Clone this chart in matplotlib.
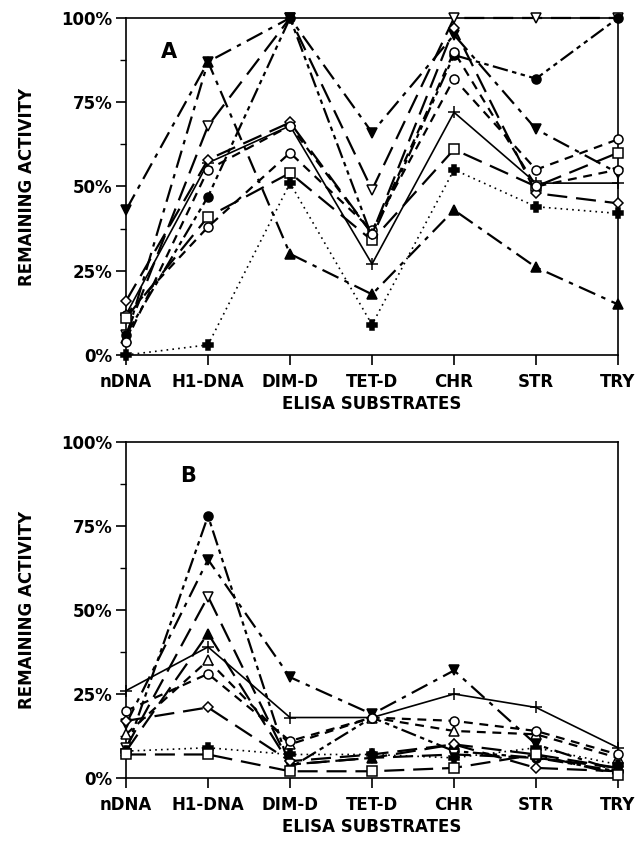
import matplotlib
matplotlib.use("Agg")
import matplotlib.pyplot as plt
from matplotlib.ticker import MultipleLocator, FuncFormatter

plt.rcParams["font.family"] = ["DejaVu Sans"]
plt.rcParams["font.weight"] = "bold"

substrates = ["nDNA", "H1-DNA", "DIM-D", "TET-D", "CHR", "STR", "TRY"]

# panel A, remaining activity in %
a_open_down = [6, 68, 100, 49, 100, 100, 100]
a_dot_circle = [6, 47, 100, 35, 89, 82, 100]
a_fill_down = [43, 87, 100, 66, 95, 67, 54]
a_fill_up = [5, 87, 30, 18, 43, 26, 15]
a_plus = [12, 57, 68, 27, 72, 51, 51]
a_circle = [12, 38, 60, 37, 82, 55, 64]
a_square = [11, 41, 54, 34, 61, 50, 60]
a_bold_plus = [0, 3, 51, 9, 55, 44, 42]
a_diamond = [16, 58, 69, 36, 97, 48, 45]
a_crossed = [4, 55, 68, 36, 90, 50, 55]

# panel B
b_dot_circle = [8, 78, 3, 18, 8, 6, 2]
b_fill_down = [16, 65, 30, 19, 32, 10, 2]
b_open_down = [9, 54, 4, 6, 7, 6, 3]
b_fill_up = [8, 43, 4, 6, 10, 7, 3]
b_plus = [26, 39, 18, 18, 25, 21, 9]
b_open_up = [13, 35, 10, 18, 14, 13, 6]
b_circle = [20, 31, 11, 18, 17, 14, 7]
b_diamond = [17, 21, 5, 7, 10, 3, 2]
b_bold_plus = [8, 9, 7, 7, 6, 9, 4]
b_square = [7, 7, 2, 2, 3, 7, 1]

dashdot = (0, (8, 3, 2, 3))
dashdotdot = (0, (7, 2, 2, 2, 2, 2))
longdash = (0, (9, 4))
shortdash = (0, (4, 3))
dotted = (0, (1, 2.5))

# (values, marker, filled, linestyle, linewidth)
series_a = [
    (a_open_down, "v", False, longdash, 1.6),
    (a_dot_circle, "o", True, dashdotdot, 1.6),
    (a_fill_down, "v", True, dashdot, 1.6),
    (a_fill_up, "^", True, dashdot, 1.6),
    (a_plus, "+", False, "-", 1.2),
    (a_circle, "o", False, shortdash, 1.6),
    (a_square, "s", False, longdash, 1.6),
    (a_bold_plus, "P", True, dotted, 1.2),
    (a_diamond, "D", False, longdash, 1.6),
    (a_crossed, "o", False, shortdash, 1.6),
]
series_b = [
    (b_dot_circle, "o", True, dashdotdot, 1.6),
    (b_fill_down, "v", True, dashdot, 1.6),
    (b_open_down, "v", False, longdash, 1.6),
    (b_fill_up, "^", True, longdash, 1.6),
    (b_plus, "+", False, "-", 1.2),
    (b_open_up, "^", False, shortdash, 1.6),
    (b_circle, "o", False, shortdash, 1.6),
    (b_diamond, "D", False, longdash, 1.6),
    (b_bold_plus, "P", True, dotted, 1.2),
    (b_square, "s", False, longdash, 1.6),
]

fig = plt.figure(figsize=(6.41, 8.44), dpi=100)
ax_a = fig.add_axes([0.1966, 0.5794, 0.7676, 0.3993])
ax_b = fig.add_axes([0.1966, 0.0782, 0.7676, 0.3981])

x = list(range(len(substrates)))
for ax, series, label in [(ax_a, series_a, "A"), (ax_b, series_b, "B")]:
    for vals, mk, filled, ls, lw in series:
        size = 6.5
        if mk == "D":
            size = 5
        if mk == "+":
            size = 9
        ax.plot(x, vals, color="black", linestyle=ls, linewidth=lw,
                marker=mk, markersize=size,
                markerfacecolor="black" if filled else "white",
                markeredgecolor="black", markeredgewidth=1.1,
                clip_on=False, zorder=3)
    ax.set_xlim(0, 6)
    ax.set_ylim(0, 100)
    ax.set_xticks(x)
    ax.set_xticklabels(substrates, fontsize=12, fontweight="bold")
    ax.yaxis.set_major_locator(MultipleLocator(25))
    ax.yaxis.set_minor_locator(MultipleLocator(12.5))
    ax.yaxis.set_major_formatter(FuncFormatter(lambda v, p: f"{int(v)}%"))
    ax.tick_params(axis="both", direction="out", length=7, width=1.2, labelsize=12)
    ax.tick_params(axis="y", which="minor", direction="out", length=4, width=1)
    ax.tick_params(axis="x", pad=6)
    ax.tick_params(axis="y", pad=3)
    for lbl in ax.get_yticklabels():
        lbl.set_fontweight("bold")
    for sp in ax.spines.values():
        sp.set_linewidth(1.2)
    ax.set_xlabel("ELISA SUBSTRATES", fontsize=12, fontweight="bold", labelpad=3)
    ax.set_ylabel("REMAINING ACTIVITY", fontsize=12, fontweight="bold", labelpad=18)
    ax.text(0.07 if label == "A" else 0.11, 0.9, label, transform=ax.transAxes,
            fontsize=15, fontweight="bold", va="center", ha="left")

fig.savefig("out.png", dpi=100, facecolor="white")
